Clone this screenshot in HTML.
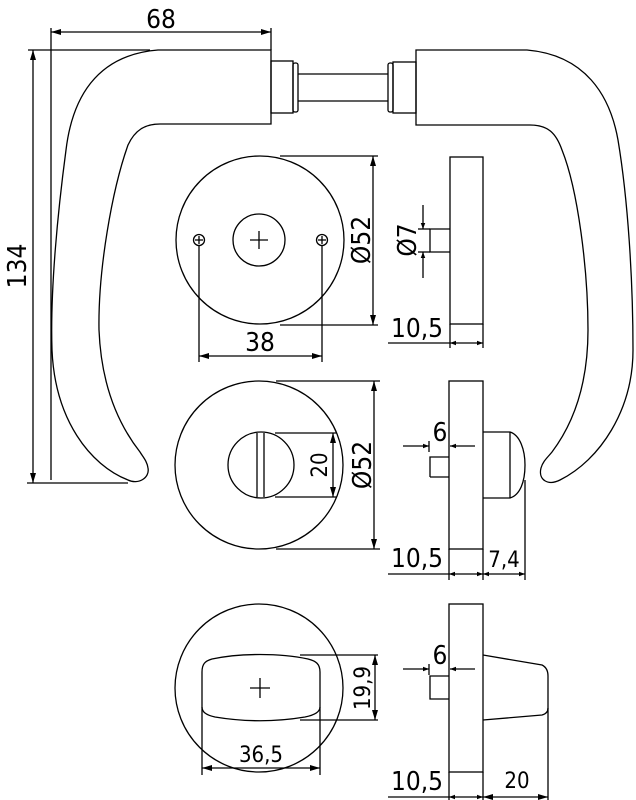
<!DOCTYPE html>
<html><head><meta charset="utf-8"><style>
html,body{margin:0;padding:0;background:#fff}
svg{display:block}
text{font-family:"DejaVu Sans Condensed","Liberation Sans",sans-serif;fill:#000}
</style></head><body>
<svg width="636" height="800" viewBox="0 0 636 800" xmlns="http://www.w3.org/2000/svg">
<defs>
<marker id="a" viewBox="0 0 10 6" refX="10" refY="3" markerWidth="10" markerHeight="6" markerUnits="userSpaceOnUse" orient="auto-start-reverse"><path d="M0,0 L10,3 L0,6 Z" fill="#000"/></marker>
<marker id="s" viewBox="0 0 8 6" refX="8" refY="3" markerWidth="6" markerHeight="5" markerUnits="userSpaceOnUse" orient="auto-start-reverse"><path d="M0,0 L8,3 L0,6 Z" fill="#000"/></marker>
</defs>
<g fill="none" stroke="#000" stroke-width="1.3">
<!-- 68 dim -->
<line x1="51" y1="32" x2="271" y2="32" marker-start="url(#a)" marker-end="url(#a)"/>
<line x1="51" y1="28" x2="51" y2="480"/>
<line x1="271" y1="28" x2="271" y2="50"/>
<!-- 134 dim -->
<line x1="28" y1="50" x2="150" y2="50"/>
<line x1="33" y1="50" x2="33" y2="483" marker-start="url(#a)" marker-end="url(#a)"/>
<line x1="27" y1="483" x2="128" y2="483"/>
<!-- left handle -->
<path d="M271,50 L158,50 C95,55 72,100 66,150 C58,210 50,290 52,350 C55,420 90,465 128,480 C138,485 150,478 148,468 C147,461 143,457 140,452 C115,420 101,380 99,330 C98,270 112,190 128,145 C135,130 145,124 160,124 L271,124 Z"/>
<rect x="271" y="61" width="22" height="52"/>
<rect x="293" y="63" width="5" height="49" rx="2"/>
<line x1="298" y1="74" x2="388" y2="74"/>
<line x1="298" y1="101" x2="388" y2="101"/>
<rect x="388" y="63" width="5" height="49" rx="2"/>
<rect x="393" y="62" width="23" height="51"/>
<!-- right handle -->
<path d="M416,50 L527,50 C585,55 610,95 618,140 C628,200 633,280 633,350 C633,410 600,460 560,480 C548,486 538,480 541,468 C543,461 548,457 552,452 C576,420 588,380 588,330 C588,270 578,190 562,150 C556,133 548,125 530,125 L416,125 Z"/>
<!-- rose 1 -->
<circle cx="260" cy="240" r="84"/>
<circle cx="259" cy="240" r="26"/>
<line x1="250" y1="240" x2="268" y2="240"/><line x1="259" y1="231" x2="259" y2="249"/>
<circle cx="199" cy="240" r="5.5"/><line x1="195" y1="240" x2="203" y2="240"/><line x1="199" y1="236" x2="199" y2="244"/>
<circle cx="322" cy="240" r="5.5"/><line x1="318" y1="240" x2="326" y2="240"/><line x1="322" y1="236" x2="322" y2="244"/>
<line x1="199" y1="245" x2="199" y2="362"/><line x1="322" y1="245" x2="322" y2="362"/>
<line x1="199" y1="356" x2="322" y2="356" marker-start="url(#a)" marker-end="url(#a)"/>
<line x1="280" y1="156" x2="378" y2="156"/><line x1="280" y1="325" x2="378" y2="325"/>
<line x1="373" y1="156" x2="373" y2="325" marker-start="url(#a)" marker-end="url(#a)"/>
<!-- side 1 -->
<rect x="450" y="157" width="33" height="167"/>
<path d="M450,229 L430,229 L430,252 L450,252"/>
<line x1="423" y1="205" x2="423" y2="229" marker-end="url(#s)"/>
<line x1="423" y1="278" x2="423" y2="252" marker-end="url(#s)"/>
<line x1="418" y1="229" x2="430" y2="229"/><line x1="418" y1="252" x2="430" y2="252"/>
<line x1="450" y1="324" x2="450" y2="348"/><line x1="483" y1="324" x2="483" y2="348"/>
<line x1="388" y1="343" x2="450" y2="343"/>
<line x1="450" y1="343" x2="483" y2="343" marker-start="url(#s)" marker-end="url(#s)"/>
<!-- rose 2 -->
<circle cx="259" cy="465" r="84"/>
<circle cx="261" cy="465" r="33"/>
<line x1="257" y1="433" x2="257" y2="497"/><line x1="264" y1="433" x2="264" y2="497"/>
<line x1="275" y1="433" x2="337" y2="433"/><line x1="275" y1="497" x2="337" y2="497"/>
<line x1="333" y1="433" x2="333" y2="497" marker-start="url(#a)" marker-end="url(#a)"/>
<line x1="276" y1="381" x2="380" y2="381"/><line x1="276" y1="549" x2="380" y2="549"/>
<line x1="374" y1="381" x2="374" y2="549" marker-start="url(#a)" marker-end="url(#a)"/>
<!-- side 2 -->
<rect x="449" y="381" width="34" height="168"/>
<path d="M449,457 L430,457 L430,477"/>
<line x1="430" y1="477" x2="449" y2="477"/>
<line x1="403" y1="446" x2="429" y2="446" marker-end="url(#s)"/>
<line x1="475" y1="446" x2="450" y2="446" marker-end="url(#s)"/>
<line x1="429" y1="441" x2="429" y2="452"/>
<path d="M483,432 L510,432 C520,435 525,450 525,465 C525,482 520,495 510,498 L483,498"/>
<line x1="510" y1="432" x2="510" y2="498"/>
<line x1="449" y1="549" x2="449" y2="580"/><line x1="483" y1="549" x2="483" y2="580"/>
<line x1="525" y1="480" x2="525" y2="580"/>
<line x1="388" y1="574" x2="449" y2="574"/>
<line x1="449" y1="574" x2="483" y2="574" marker-start="url(#s)" marker-end="url(#s)"/>
<line x1="483" y1="574" x2="525" y2="574" marker-start="url(#s)" marker-end="url(#s)"/>
<!-- rose 3 -->
<circle cx="259" cy="688" r="84"/>
<path d="M202,672 C202,664 205,661 212,659 C240,653 280,653 308,659 C316,661 320,664 320,672 L320,707 C320,712 315,715 305,717 C275,722 245,722 215,717 C206,715 202,712 202,707 Z"/>
<line x1="250" y1="688" x2="270" y2="688"/><line x1="260" y1="678" x2="260" y2="698"/>
<line x1="300" y1="655" x2="378" y2="655"/><line x1="300" y1="720" x2="378" y2="720"/>
<line x1="375" y1="655" x2="375" y2="720" marker-start="url(#a)" marker-end="url(#a)"/>
<line x1="202" y1="707" x2="202" y2="775"/><line x1="320" y1="707" x2="320" y2="775"/>
<line x1="202" y1="768" x2="320" y2="768" marker-start="url(#a)" marker-end="url(#a)"/>
<!-- side 3 -->
<rect x="449" y="604" width="34" height="168"/>
<path d="M449,676 L430,676 L430,699 L449,699"/>
<line x1="403" y1="669" x2="429" y2="669" marker-end="url(#s)"/>
<line x1="475" y1="669" x2="450" y2="669" marker-end="url(#s)"/>
<line x1="429" y1="664" x2="429" y2="675"/>
<path d="M483,655 L542,665 C546,667 548,671 548,676 L548,708 C548,712 546,714 542,715 L483,720"/>
<line x1="449" y1="772" x2="449" y2="800"/><line x1="483" y1="772" x2="483" y2="800"/>
<line x1="548" y1="708" x2="548" y2="800"/>
<line x1="388" y1="797" x2="449" y2="797"/>
<line x1="449" y1="797" x2="483" y2="797" marker-start="url(#s)" marker-end="url(#s)"/>
<line x1="483" y1="797" x2="548" y2="797" marker-start="url(#a)" marker-end="url(#a)"/>
</g>
<g font-size="26">
<text x="161" y="28" text-anchor="middle">68</text>
<text transform="translate(26,266) rotate(-90)" text-anchor="middle">134</text>
<text x="260" y="351" text-anchor="middle">38</text>
<text transform="translate(370,240) rotate(-90)" text-anchor="middle">Ø52</text>
<text transform="translate(416,240) rotate(-90)" text-anchor="middle">Ø7</text>
<text x="417" y="337" text-anchor="middle">10,5</text>
<text transform="translate(371,465) rotate(-90)" text-anchor="middle">Ø52</text>
<text x="440" y="441" text-anchor="middle">6</text>
<text x="417" y="567" text-anchor="middle">10,5</text>
<text x="440" y="664" text-anchor="middle">6</text>
<text x="417" y="790" text-anchor="middle">10,5</text>
</g>
<g font-size="22">
<text transform="translate(327,465) rotate(-90)" text-anchor="middle">20</text>
<text x="504" y="567" text-anchor="middle">7,4</text>
<text transform="translate(370,688) rotate(-90)" text-anchor="middle">19,9</text>
<text x="261" y="762" text-anchor="middle">36,5</text>
<text x="517" y="788" text-anchor="middle">20</text>
</g>
</svg>
</body></html>
